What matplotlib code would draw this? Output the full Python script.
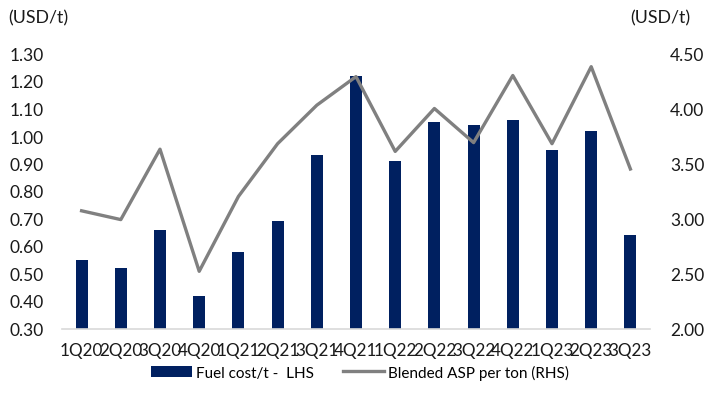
import matplotlib
matplotlib.use("Agg")
import matplotlib.pyplot as plt
from matplotlib.lines import Line2D
from matplotlib.patches import Patch

plt.rcParams['font.family'] = ['Lato', 'DejaVu Sans']

quarters = ["1Q20", "2Q20", "3Q20", "4Q20", "1Q21", "2Q21", "3Q21", "4Q21",
            "1Q22", "2Q22", "3Q22", "4Q22", "1Q23", "2Q23", "3Q23"]
fuel_cost = [0.55, 0.52, 0.66, 0.42, 0.58, 0.69, 0.93, 1.22,
             0.91, 1.05, 1.04, 1.06, 0.95, 1.02, 0.64]
blended_asp = [3.07, 2.99, 3.63, 2.52, 3.20, 3.68, 4.03, 4.29,
               3.61, 4.00, 3.69, 4.30, 3.68, 4.38, 3.45]

left_ticks = [0.30, 0.40, 0.50, 0.60, 0.70, 0.80, 0.90, 1.00, 1.10, 1.20, 1.30]
right_ticks = [2.00, 2.50, 3.00, 3.50, 4.00, 4.50]

navy = "#002060"
gray = "#808080"
txt = "#1a1a1a"

fig = plt.figure(figsize=(7.04, 4.14), dpi=100)
ax = fig.add_axes([62/704, 1-329.5/414, (650-62)/704, (329.5-54.5)/414])
ax2 = ax.twinx()

x = list(range(len(quarters)))
ax.bar(x, fuel_cost, width=0.31, color=navy, zorder=2)
ax2.plot(x, blended_asp, color=gray, lw=2.4, zorder=3)

ax.set_xlim(-0.5, len(quarters) - 0.5)
ax.set_ylim(0.30, 1.30)
ax2.set_ylim(2.00, 4.50)
ax.set_yticks(left_ticks)
ax.set_yticklabels([f"{v:.2f}" for v in left_ticks])
ax2.set_yticks(right_ticks)
ax2.set_yticklabels([f"{v:.2f}" for v in right_ticks])
ax.set_xticks(x)
ax.set_xticklabels(quarters)

for a in (ax, ax2):
    for s in a.spines.values():
        s.set_visible(False)
    a.tick_params(length=0, labelsize=12.5, colors=txt)
ax.spines['bottom'].set_visible(True)
ax.spines['bottom'].set_color("#d9d9d9")
ax.spines['bottom'].set_linewidth(1.2)
ax.tick_params(axis='y', pad=13)
ax2.tick_params(axis='y', pad=14.5)
ax.tick_params(axis='x', pad=10, labelsize=12.3)

fig.text(8/704, 1-18/414, "(USD/t)", fontsize=12.8, color=txt, va='center', ha='left')
fig.text(690/704, 1-18/414, "(USD/t)", fontsize=12.8, color=txt, va='center', ha='right')

handles = [Patch(facecolor=navy, edgecolor='none'),
           Line2D([0], [0], color=gray, lw=2.4)]
fig.legend(handles, ["Fuel cost/t -  LHS", "Blended ASP per ton (RHS)"],
           loc='center', bbox_to_anchor=(0.511, 1-373/414), ncol=2, frameon=False,
           fontsize=11, handlelength=2.7, handleheight=0.7, handletextpad=0.26,
           columnspacing=1.9)

fig.savefig("out.png", dpi=100)
